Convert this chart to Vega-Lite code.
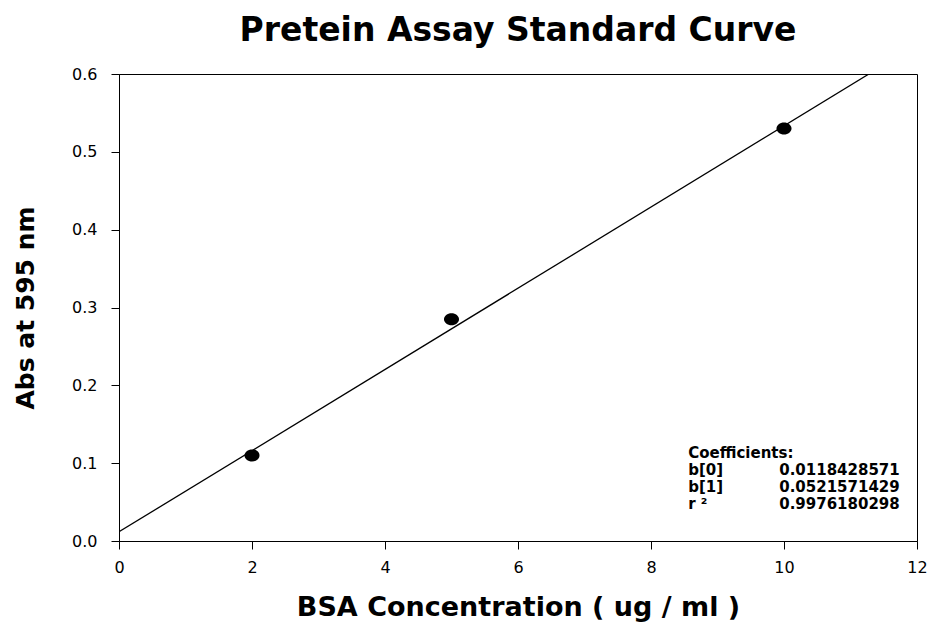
{
  "$schema": "https://vega.github.io/schema/vega-lite/v6.json",
  "width": 798,
  "height": 467,
  "autosize": {"type": "none"},
  "padding": {"left": 119, "top": 74, "right": 18, "bottom": 85},
  "background": "white",
  "title": {
    "text": "Pretein Assay Standard Curve",
    "font": "DejaVu Sans",
    "fontSize": 33,
    "fontWeight": "bold",
    "color": "black",
    "anchor": "middle",
    "offset": 18
  },
  "config": {
    "view": {"stroke": "black", "strokeWidth": 1},
    "axis": {
      "grid": false,
      "domainColor": "black",
      "tickColor": "black",
      "tickSize": 8,
      "labelFlush": false,
      "labelFont": "DejaVu Sans",
      "labelFontSize": 16,
      "labelColor": "black",
      "titleFont": "DejaVu Sans",
      "titleFontWeight": "bold",
      "titleColor": "black"
    }
  },
  "datasets": {
    "points": [
      {"conc": 2, "abs": 0.110},
      {"conc": 5, "abs": 0.285},
      {"conc": 10, "abs": 0.530}
    ],
    "fit": [
      {"conc": 0, "abs": 0.0118},
      {"conc": 11.277, "abs": 0.6}
    ],
    "labels": [
      {"conc": 8.56, "abs": 0.1125, "t": "Coefficients:"},
      {"conc": 8.56, "abs": 0.0910, "t": "b[0]"},
      {"conc": 8.56, "abs": 0.0695, "t": "b[1]"},
      {"conc": 8.56, "abs": 0.0480, "t": "r ²"}
    ],
    "values": [
      {"conc": 11.74, "abs": 0.0910, "t": "0.0118428571"},
      {"conc": 11.74, "abs": 0.0695, "t": "0.0521571429"},
      {"conc": 11.74, "abs": 0.0480, "t": "0.9976180298"}
    ]
  },
  "encoding": {
    "x": {
      "field": "conc",
      "type": "quantitative",
      "scale": {"domain": [0, 12], "nice": false, "zero": false},
      "axis": {
        "title": "BSA Concentration ( ug / ml )",
        "titleFontSize": 27,
        "titlePadding": 19,
        "values": [0, 2, 4, 6, 8, 10, 12],
        "format": "d",
        "labelPadding": 10
      }
    },
    "y": {
      "field": "abs",
      "type": "quantitative",
      "scale": {"domain": [0, 0.6], "nice": false, "zero": false},
      "axis": {
        "title": "Abs at 595 nm",
        "titleFontSize": 25,
        "titlePadding": 33,
        "values": [0, 0.1, 0.2, 0.3, 0.4, 0.5, 0.6],
        "format": ".1f",
        "labelPadding": 14
      }
    }
  },
  "layer": [
    {
      "data": {"name": "fit"},
      "mark": {"type": "line", "color": "black", "strokeWidth": 1.3, "clip": true}
    },
    {
      "data": {"name": "points"},
      "mark": {
        "type": "point",
        "shape": "M -1 0 A 1 0.8 0 1 1 1 0 A 1 0.8 0 1 1 -1 0 Z",
        "size": 225,
        "filled": true,
        "color": "black",
        "opacity": 1
      }
    },
    {
      "data": {"name": "labels"},
      "mark": {"type": "text", "align": "left", "baseline": "middle", "font": "DejaVu Sans", "fontWeight": "bold", "fontSize": 15, "color": "black"},
      "encoding": {"text": {"field": "t"}}
    },
    {
      "data": {"name": "values"},
      "mark": {"type": "text", "align": "right", "baseline": "middle", "font": "DejaVu Sans", "fontWeight": "bold", "fontSize": 15, "color": "black"},
      "encoding": {"text": {"field": "t"}}
    }
  ]
}
